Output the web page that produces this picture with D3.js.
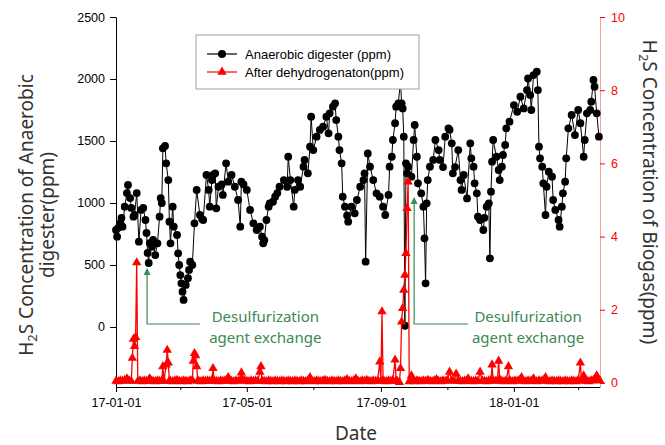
<!DOCTYPE html>
<html><head><meta charset="utf-8">
<script src="https://cdn.jsdelivr.net/npm/d3@7"></script>
<style>body{margin:0;background:#fff}</style>
</head><body><svg id="c" width="665" height="445"></svg>
<script>
// days since 2017-01-01
const digesterDay = [0,1,2,4,5,6,8,10,11,13,14,16,17,19,21,23,25,27,28,29,30,31,33,34,36,38,40,41,42,43,45,46,48,49,50,52,53,56,57,58,59,60,61,62,64,66,67,68,70,72,74,77,79,80,83,85,86,88,89,91,92,94,97,98,101,103,106,109,112,114,115,117,120,123,126,129,132,134,135,136,138,140,141,144,146,148,150,154,157,158,160,163,164,167,169,172,173,176,178,179,181,184,187,190,193,195,196,199,201,202,204,205,207,208,210,212,213,216,219,221,224,227,228,229,231,233,236,239,242,245,247,250,251,253,254,256,257,259,261,262,263,264,265,266,267,268,271,273,274,276,277,280,282,283,284,285,286,288,291,293,296,297,300,302,305,306,308,309,311,314,316,317,319,322,325,326,328,329,331,332,334,337,338,340,342,343,344,345,346,349,351,352,354,355,357,358,361,365,368,371,374,377,378,380,381,383,386,387,388,389,391,392,394,395,397,400,401,403,406,407,409,410,412,413,415,418,421,424,426,429,430,432,435,436,438,439,441,443];
const digesterPpm = [782,728,800,838,879,809,970,1080,1145,1040,960,890,903,1080,688,944,960,863,758,597,516,677,647,702,580,675,890,1040,1000,1441,1460,1320,1185,849,675,970,809,742,594,500,419,352,285,218,339,393,460,527,500,836,1105,903,870,863,1226,1105,970,1185,1226,1239,957,1131,1150,1065,1320,1172,1226,1131,1024,809,1172,1150,1105,944,836,782,809,728,675,700,863,970,997,1010,1051,1080,1131,1185,1131,1373,1185,970,1105,1185,1131,1293,1347,1239,1454,1696,1427,1535,1589,1615,1696,1562,1723,1777,1804,1669,1535,1427,1320,1051,970,900,849,970,917,1024,1131,1185,1239,527,1400,1293,1185,1078,1051,970,903,1065,1293,1373,1508,1643,1777,1804,1990,1804,1763,1535,10,1320,1239,1293,1212,1508,1629,1373,1159,1078,970,715,352,997,1185,1293,1347,1508,1427,1347,1290,1535,1602,1590,1481,1239,1290,1427,1185,1105,1226,1037,1481,1360,1293,1159,1078,890,863,782,880,970,997,554,1091,1333,1508,1373,1266,1185,1293,1387,1468,1602,1656,1790,1736,1857,1763,1911,2004,1870,1750,2032,2059,1911,1454,1360,1293,1159,903,1131,1252,1212,1024,944,863,809,970,1078,1172,1360,1602,1710,1548,1750,1643,1373,1508,1723,1750,1817,1992,1938,1723,1535];
const biogasDay = [0,2,4,6,8,10,12,14,15,16,17,18,19,20,22,24,26,28,30,31,32,34,36,38,40,42,43,44,46,47,48,49,50,52,54,56,58,60,62,64,66,68,70,71,72,73,74,75,76,78,80,82,84,86,88,89,90,92,94,96,98,100,102,103,104,106,108,110,112,114,115,116,118,120,122,124,126,128,130,132,133,134,136,138,140,142,144,146,148,150,152,154,156,158,160,162,164,166,168,170,172,174,176,178,180,182,184,186,188,190,192,194,196,198,200,202,204,206,208,210,212,214,216,218,220,222,224,226,228,230,232,234,236,238,240,242,243,244,245,246,248,250,252,254,256,257,258,260,261,262,263,264,265,266,267,268,269,270,271,272,274,276,278,280,282,284,286,288,290,292,294,296,298,300,302,304,306,308,310,312,314,316,318,320,322,323,324,326,328,330,332,334,336,338,340,342,344,345,346,348,350,351,352,354,356,358,360,361,362,364,366,368,370,372,374,376,378,380,382,383,384,386,388,390,392,394,396,398,400,402,404,406,408,410,412,414,416,418,420,422,424,426,427,429,430,432,434,436,438,440,441,442,444];
const biogasPpm = [0.05,0.04,0.06,0.05,0.08,0.12,0.06,0.05,0.68,1.2,1.0,1.25,3.29,0.05,0.06,0.04,0.06,0.05,0.08,0.12,0.06,0.05,0.04,0.06,0.05,0.06,0.45,0.05,0.5,0.9,0.55,0.06,0.05,0.04,0.06,0.08,0.05,0.04,0.06,0.05,0.04,0.06,0.08,0.6,0.81,0.75,0.45,0.06,0.05,0.04,0.06,0.05,0.06,0.05,0.08,0.4,0.06,0.05,0.04,0.06,0.05,0.06,0.1,0.15,0.06,0.05,0.04,0.06,0.05,0.08,0.28,0.1,0.06,0.05,0.04,0.06,0.05,0.06,0.05,0.3,0.45,0.06,0.05,0.04,0.06,0.05,0.04,0.06,0.05,0.04,0.06,0.05,0.04,0.06,0.05,0.04,0.06,0.05,0.04,0.06,0.05,0.04,0.06,0.15,0.05,0.04,0.06,0.05,0.04,0.06,0.08,0.05,0.04,0.06,0.05,0.04,0.06,0.05,0.04,0.06,0.1,0.05,0.04,0.06,0.12,0.05,0.04,0.06,0.05,0.08,0.05,0.04,0.06,0.05,0.06,0.58,0.06,1.95,0.06,0.05,0.04,0.06,0.05,0.08,0.63,0.06,0.05,0.02,0.4,1.67,2.04,2.54,2.95,3.54,4.77,5.5,0.04,0.06,0.2,0.05,0.04,0.06,0.05,0.04,0.06,0.05,0.08,0.05,0.04,0.06,0.1,0.05,0.04,0.06,0.05,0.08,0.3,0.06,0.05,0.25,0.06,0.05,0.04,0.06,0.05,0.12,0.06,0.05,0.04,0.06,0.05,0.3,0.06,0.05,0.04,0.06,0.08,0.5,0.06,0.05,0.08,0.6,0.1,0.05,0.04,0.06,0.45,0.06,0.05,0.04,0.06,0.05,0.08,0.15,0.05,0.04,0.06,0.05,0.08,0.12,0.05,0.04,0.06,0.05,0.08,0.15,0.05,0.04,0.06,0.05,0.04,0.06,0.05,0.04,0.06,0.05,0.04,0.06,0.05,0.04,0.08,0.55,0.06,0.2,0.06,0.05,0.04,0.06,0.08,0.12,0.2,0.08,0.06];
const leftTicks = [0,500,1000,1500,2000,2500];
const rightTicks = [0,2,4,6,8,10];
const majorDateTicks = ["2017-01-01","2017-05-01","2017-09-01","2018-01-01"];
const minorDateTicks = ["2017-03-01","2017-07-01","2017-11-01","2018-03-01"];
const seriesNames = ["Anaerobic digester (ppm)","After dehydrogenaton(ppm)"];
const annotationText = ["Desulfurization","agent exchange"];

const t0 = Date.UTC(2017,0,1);
const toDate = d => new Date(t0 + d*864e5);
const svg = d3.select("#c");
const x = d3.scaleUtc().domain([toDate(0), toDate(444)]).range([116,600]);
const yL = d3.scaleLinear().domain([-484,2500]).range([387,17]);
const yR = d3.scaleLinear().domain([-0.11,10]).range([387,17]);
const tickFont = "'Liberation Sans', Arial, sans-serif";
const titleFont = "'Noto Sans', 'Open Sans', sans-serif";

// bottom axis
const gx = svg.append("g").attr("transform","translate(0,387)")
  .call(d3.axisBottom(x).tickValues(majorDateTicks.map(s=>new Date(s+"T00:00:00Z")))
    .tickFormat(d3.utcFormat("%y-%m-%d")).tickSize(5).tickSizeOuter(0).tickPadding(6));
svg.append("g").attr("transform","translate(0,387)")
  .call(d3.axisBottom(x).tickValues(minorDateTicks.map(s=>new Date(s+"T00:00:00Z")))
    .tickFormat("").tickSize(3).tickSizeOuter(0)).select(".domain").remove();
// left axis
const gl = svg.append("g").attr("transform","translate(116,0)")
  .call(d3.axisLeft(yL).tickValues(leftTicks).tickFormat(d3.format("d")).tickSize(6).tickSizeOuter(0).tickPadding(5));
// right axis
const gr = svg.append("g").attr("transform","translate(600,0)")
  .call(d3.axisRight(yR).tickValues(rightTicks).tickFormat(d3.format("d")).tickSize(5).tickSizeOuter(0).tickPadding(6));
[gx,gl,gr].forEach(g=>g.selectAll("text").attr("font-family",tickFont).attr("font-size",12.5).attr("fill","#000"));
gr.selectAll("text").attr("fill","#ff0000");
gr.selectAll(".tick line").attr("stroke","#ff0000");
gr.select(".domain").attr("stroke","#ff9c9c");

// black series
const dig = digesterDay.map((d,i)=>({d:toDate(d), v:digesterPpm[i]}));
svg.append("path").datum(dig).attr("fill","none").attr("stroke","#000").attr("stroke-width",1)
  .attr("d", d3.line().x(p=>x(p.d)).y(p=>yL(p.v)));
svg.append("g").selectAll("circle").data(dig).join("circle")
  .attr("cx",p=>x(p.d)).attr("cy",p=>yL(p.v)).attr("r",3.9).attr("fill","#000");

// red series
const bio = biogasDay.map((d,i)=>({d:toDate(d), v:biogasPpm[i]}));
svg.append("path").datum(bio).attr("fill","none").attr("stroke","#ff0000").attr("stroke-width",1.3)
  .attr("d", d3.line().x(p=>x(p.d)).y(p=>yR(p.v)));
const tri = d3.symbol().type(d3.symbolTriangle).size(38);
svg.append("g").selectAll("path").data(bio).join("path")
  .attr("transform",p=>`translate(${x(p.d)},${yR(p.v)})`).attr("d",tri).attr("fill","#ff0000");

// legend
const lg = svg.append("g");
lg.append("rect").attr("x",196).attr("y",35).attr("width",223).attr("height",54)
  .attr("fill","#fff").attr("stroke","#a0a0a0").attr("stroke-width",1);
[[54,"#000"],[72,"#ff0000"]].forEach(([yy,c],i)=>{
  lg.append("line").attr("x1",207).attr("x2",237).attr("y1",yy).attr("y2",yy).attr("stroke",c).attr("stroke-width",1.2);
  if(i===0) lg.append("circle").attr("cx",222).attr("cy",yy).attr("r",4).attr("fill",c);
  else lg.append("path").attr("transform",`translate(222,${yy})`).attr("d",tri).attr("fill",c);
  lg.append("text").attr("x",245).attr("y",yy+4.5).attr("font-family",tickFont).attr("font-size",13)
    .attr("fill","#000").text(seriesNames[i]);
});

// annotations
const green = "#3a8a55";
const ann = [
  {arrow:28.5, tip:476, elbow:24, end:77, text:137},
  {arrow:273.5, tip:1048, elbow:24, end:323, text:378}
];
const ag = svg.append("g");
ann.forEach(a=>{
  const ax = x(toDate(a.arrow));
  ag.append("path").attr("fill","none").attr("stroke",green).attr("stroke-width",1.2)
    .attr("d",`M${x(toDate(a.end))},${yL(a.elbow)}H${ax}V${yL(a.tip)+5}`);
  ag.append("path").attr("fill",green)
    .attr("d",`M${ax},${yL(a.tip)}l-3.5,7h7z`);
  const tx = x(toDate(a.text));
  annotationText.forEach((s,i)=>{
    ag.append("text").attr("x",tx).attr("y",yL(a.elbow)-2+20.5*i).attr("text-anchor","middle")
      .attr("font-family",titleFont).attr("font-size",15).attr("fill",green).text(s);
  });
});

// axis titles
const tl = svg.append("text").attr("transform","translate(33,215) rotate(-90)")
  .attr("text-anchor","middle").attr("font-family",titleFont).attr("font-size",19).attr("fill","#333");
tl.append("tspan").text("H");
tl.append("tspan").attr("font-size",13).attr("dy",4).text("2");
tl.append("tspan").attr("dy",-4).text("S Concentration of Anaerobic");
svg.append("text").attr("transform","translate(54,215) rotate(-90)")
  .attr("text-anchor","middle").attr("font-family",titleFont).attr("font-size",19).attr("fill","#333")
  .text("digester(ppm)");
const tr = svg.append("text").attr("transform","translate(643,192) rotate(90)")
  .attr("text-anchor","middle").attr("font-family",titleFont).attr("font-size",19).attr("fill","#333");
tr.append("tspan").text("H");
tr.append("tspan").attr("font-size",13).attr("dy",4).text("2");
tr.append("tspan").attr("dy",-4).text("S Concentration of Biogas(ppm)");
svg.append("text").attr("x",356).attr("y",440).attr("text-anchor","middle")
  .attr("font-family",titleFont).attr("font-size",19).attr("fill","#333").text("Date");
</script></body></html>
